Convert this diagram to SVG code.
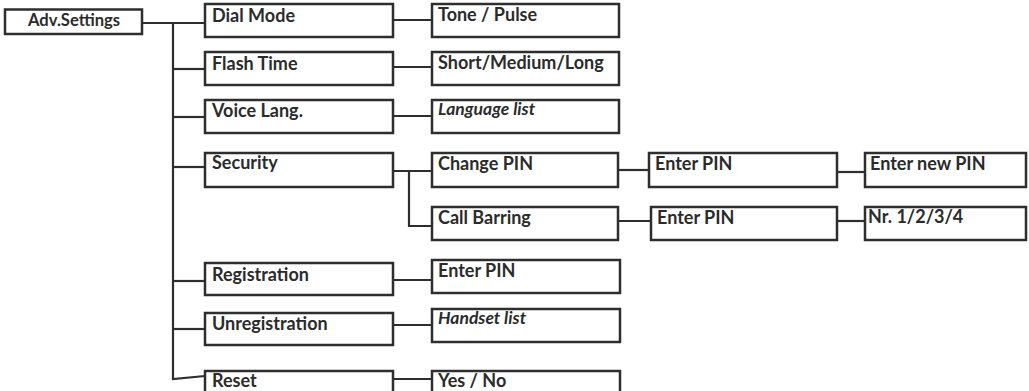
<svg xmlns="http://www.w3.org/2000/svg" width="1029" height="391" viewBox="0 0 1029 391">
<style>
.box{fill:#fff;stroke:#2e2e2e;stroke-width:2.5}
.ln{fill:none;stroke:#2e2e2e;stroke-width:2.2}
text{font-family:"Lato","Open Sans","Liberation Sans",sans-serif;font-weight:bold;font-size:18px;fill:#2b2b2b}
.it{font-style:italic;font-size:17.5px}
</style>
<rect width="1029" height="391" fill="#fff"/>
<g id="connectors">
<polyline class="ln" points="142,23 205,23"/>
<polyline class="ln" points="173,23 173,379 205,376"/>
<line class="ln" x1="173" y1="69" x2="205" y2="69"/>
<line class="ln" x1="173" y1="117" x2="205" y2="117"/>
<line class="ln" x1="173" y1="167" x2="205" y2="167"/>
<line class="ln" x1="173" y1="281" x2="205" y2="281"/>
<line class="ln" x1="173" y1="329" x2="205" y2="329"/>
<line class="ln" x1="393" y1="20" x2="432" y2="20"/>
<line class="ln" x1="393" y1="67" x2="432" y2="67"/>
<line class="ln" x1="393" y1="116" x2="432" y2="116"/>
<line class="ln" x1="393" y1="171" x2="432" y2="171"/>
<polyline class="ln" points="409,171 409,226 432,226"/>
<line class="ln" x1="618" y1="170" x2="649" y2="170"/>
<line class="ln" x1="837" y1="172" x2="865" y2="172"/>
<line class="ln" x1="618" y1="221" x2="651" y2="221"/>
<line class="ln" x1="837" y1="221" x2="865" y2="221"/>
<line class="ln" x1="393" y1="280" x2="432" y2="280"/>
<line class="ln" x1="393" y1="325" x2="432" y2="325"/>
<line class="ln" x1="393" y1="379" x2="432" y2="379"/>
</g>
<g id="adv-settings"><rect class="box" x="5" y="9.5" width="137" height="24.5"/><text x="28" y="26" textLength="92" lengthAdjust="spacingAndGlyphs" style="font-size:16.5px">Adv.Settings</text></g>
<g id="dial-mode"><rect class="box" x="205" y="4" width="188" height="33"/><text x="212" y="22">Dial Mode</text></g>
<g id="flash-time"><rect class="box" x="205" y="52" width="188" height="33"/><text x="212" y="70">Flash Time</text></g>
<g id="voice-lang"><rect class="box" x="205" y="100" width="188" height="33"/><text x="212" y="117">Voice Lang.</text></g>
<g id="security"><rect class="box" x="205" y="153" width="188" height="34"/><text x="212" y="169">Security</text></g>
<g id="registration"><rect class="box" x="205" y="263" width="188" height="32"/><text x="212" y="281">Registration</text></g>
<g id="unregistration"><rect class="box" x="205" y="313" width="188" height="32"/><text x="212" y="330">Unregistration</text></g>
<g id="reset"><rect class="box" x="205" y="371" width="188" height="33"/><text x="212" y="387">Reset</text></g>
<g id="tone-pulse"><rect class="box" x="432" y="4" width="187" height="33"/><text x="438" y="21">Tone / Pulse</text></g>
<g id="short-medium-long"><rect class="box" x="432" y="52" width="187" height="33"/><text x="438" y="69">Short/Medium/Long</text></g>
<g id="language-list"><rect class="box" x="432" y="100" width="187" height="33"/><text class="it" x="438" y="115">Language list</text></g>
<g id="change-pin"><rect class="box" x="432" y="153" width="186" height="34"/><text x="438" y="170">Change PIN</text></g>
<g id="call-barring"><rect class="box" x="432" y="207" width="186" height="33"/><text x="438" y="224">Call Barring</text></g>
<g id="enter-pin-1"><rect class="box" x="649" y="153" width="188" height="34"/><text x="655" y="170">Enter PIN</text></g>
<g id="enter-pin-2"><rect class="box" x="651" y="207" width="186" height="33"/><text x="657" y="224">Enter PIN</text></g>
<g id="enter-new-pin"><rect class="box" x="865" y="153" width="161" height="34"/><text x="870" y="170">Enter new PIN</text></g>
<g id="nr-1234"><rect class="box" x="865" y="207" width="161" height="33"/><text x="868" y="223">Nr. 1/2/3/4</text></g>
<g id="enter-pin-3"><rect class="box" x="432" y="260" width="188" height="33"/><text x="438" y="277">Enter PIN</text></g>
<g id="handset-list"><rect class="box" x="432" y="309" width="188" height="33"/><text class="it" x="438" y="324">Handset list</text></g>
<g id="yes-no"><rect class="box" x="432" y="371" width="188" height="33"/><text x="438" y="387">Yes / No</text></g>
</svg>
